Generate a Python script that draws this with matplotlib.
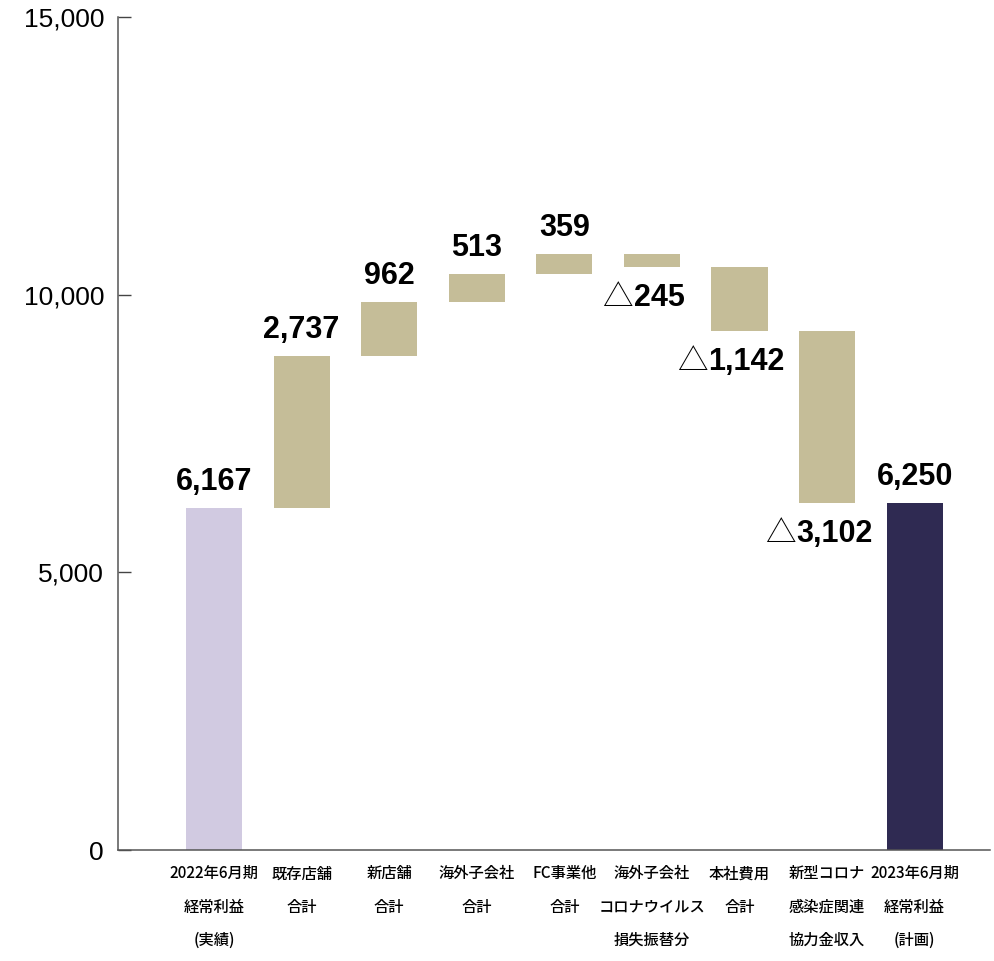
import numpy as np
import matplotlib.pyplot as plt

plt.rcParams['font.family'] = ['Liberation Sans', 'Noto Sans CJK JP', 'DejaVu Sans']

labels = ['2022年6月期\n経常利益\n(実績)', '既存店舗\n合計', '新店舗\n合計', '海外子会社\n合計',
          'FC事業他\n合計', '海外子会社\nコロナウイルス\n損失振替分', '本社費用\n合計',
          '新型コロナ\n感染症関連\n協力金収入', '2023年6月期\n経常利益\n(計画)']
start_value = 6167
changes = [2737, 962, 513, 359, -245, -1142, -3102]
end_value = 6250
yticks = [0, 5000, 10000, 15000]

c_start = '#d1cae1'
c_step = '#c5bd98'
c_end = '#2f2a52'

# waterfall bottoms / heights
cum = start_value + np.concatenate([[0], np.cumsum(changes)])
bottoms = [0]
heights = [start_value]
for i, d in enumerate(changes):
    bottoms.append(min(cum[i], cum[i + 1]))
    heights.append(abs(d))
bottoms.append(0)
heights.append(end_value)
colors = [c_start] + [c_step] * len(changes) + [c_end]

fig = plt.figure(figsize=(9.94, 9.61), dpi=100)
ax = fig.add_axes([118 / 994, 111 / 961, (990 - 118) / 994, 833 / 961])
x = np.arange(len(labels))
ax.bar(x, heights, bottom=bottoms, width=0.64, color=colors)

ax.set_xlim(-1.096, 8.86)
ax.set_ylim(0, 15000)

# value labels
vals = [start_value] + changes + [end_value]
neg = []
for i, v in enumerate(vals):
    top = bottoms[i] + heights[i]
    if v >= 0:
        ax.annotate(f'{v:,}', (x[i], top), xytext=(0, 18), textcoords='offset pixels',
                    ha='center', va='baseline', fontsize=22, fontweight='bold')
    else:
        tri = ax.annotate('△', (x[i], bottoms[i]), xytext=(0, -39), textcoords='offset pixels',
                          ha='left', va='baseline', fontsize=22,
                          family=['Noto Sans CJK JP'], fontweight='light')
        num = ax.annotate(f'{abs(v):,}', (x[i], bottoms[i]), xytext=(0, -39),
                          textcoords='offset pixels', ha='left', va='baseline',
                          fontsize=22, fontweight='bold')
        neg.append((tri, num))

# center "△" + number together, a bit left of the bar centre
fig.canvas.draw()
r = fig.canvas.get_renderer()
for tri, num in neg:
    wt = tri.get_window_extent(r).width
    wn = num.get_window_extent(r).width
    left = -9 - (wt + wn) / 2
    tri.xyann = (left, -39)
    num.xyann = (left + wt + 1, -39)

ax.set_yticks(yticks)
ax.set_yticklabels([f'{v:,}' for v in yticks], fontsize=19)
ax.tick_params(axis='y', direction='in', length=9, width=1, color='#444444', pad=10)
ax.set_xticks(x)
ax.set_xticklabels(labels, fontsize=11, family=['Noto Sans CJK JP'], linespacing=2.25,
                   fontweight='medium')
ax.tick_params(axis='x', length=0, pad=11)
for s in ['top', 'right']:
    ax.spines[s].set_visible(False)
for s in ['left', 'bottom']:
    ax.spines[s].set_color('#555555')
    ax.spines[s].set_linewidth(1.1)

fig.savefig('out.png', dpi=100)
